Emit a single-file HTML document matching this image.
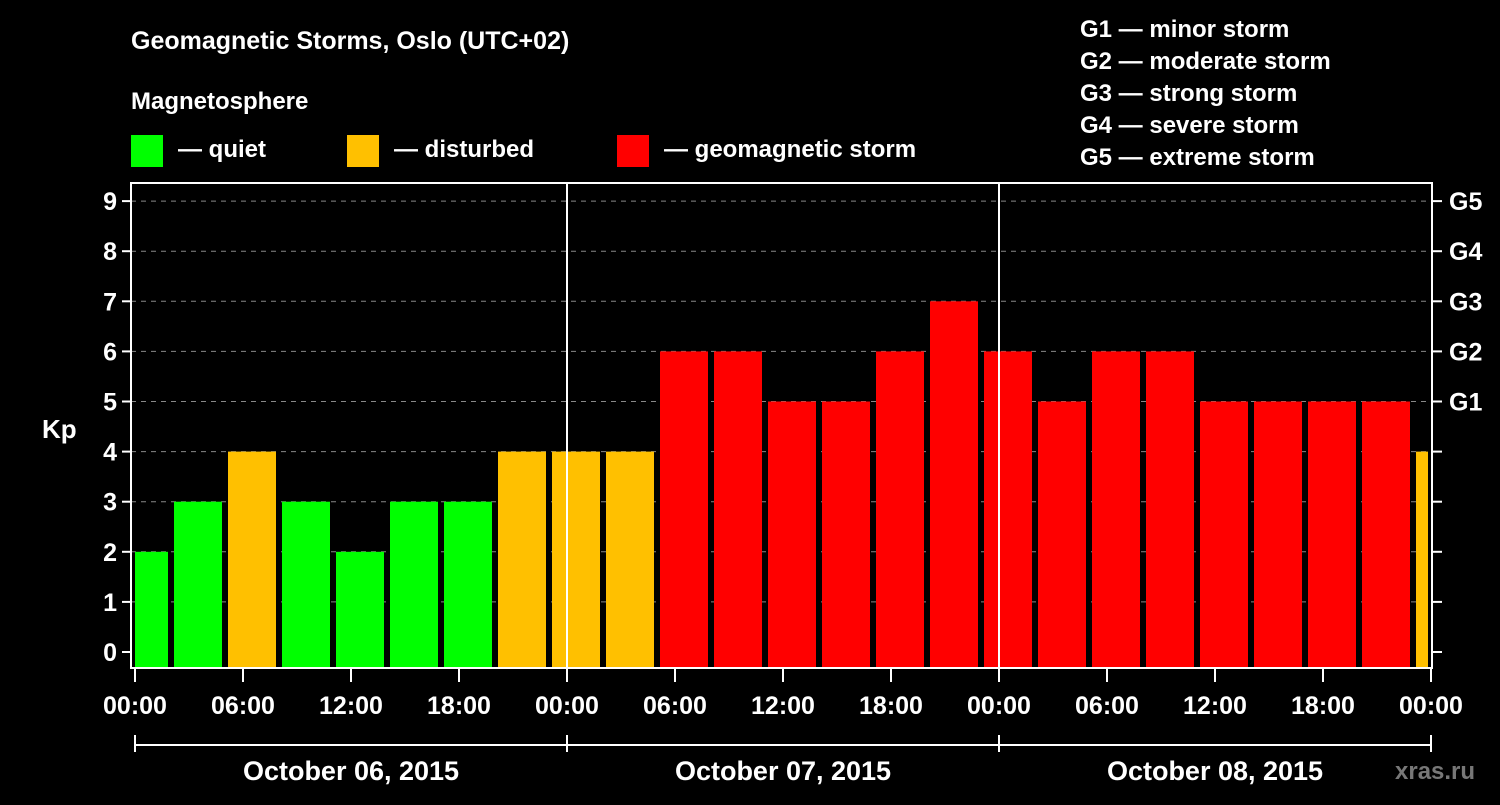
<!DOCTYPE html>
<html><head><meta charset="utf-8"><style>
body{margin:0;background:#000;}
svg text{font-family:"Liberation Sans",sans-serif;font-weight:bold;fill:#fff;}
</style></head><body>
<svg width="1500" height="800">
<rect width="1500" height="800" fill="#000"/>
<text x="131" y="49" font-size="25">Geomagnetic Storms, Oslo (UTC+02)</text>
<text x="131" y="109" font-size="24">Magnetosphere</text>
<g><rect x="131" y="135" width="32" height="32" fill="#00ff00"/><text x="178" y="157" font-size="24">— quiet</text></g>
<g><rect x="347" y="135" width="32" height="32" fill="#ffc000"/><text x="394" y="157" font-size="24">— disturbed</text></g>
<g><rect x="617" y="135" width="32" height="32" fill="#ff0000"/><text x="664" y="157" font-size="24">— geomagnetic storm</text></g>
<g font-size="24">
<text x="1080" y="37">G1 — minor storm</text><text x="1080" y="69">G2 — moderate storm</text><text x="1080" y="101">G3 — strong storm</text><text x="1080" y="133">G4 — severe storm</text><text x="1080" y="165">G5 — extreme storm</text></g>
<g id="grid"></g><g id="bars"></g><g id="axes"></g>
<text x="42" y="438" font-size="26">Kp</text>
<text x="1395" y="779" font-size="24" fill="#888" style="fill:#777">xras.ru</text>
</svg>
<script>
const kpValues=[2,3,4,3,2,3,3,4,4,4,6,6,5,5,6,7,6,5,6,6,5,5,5,5,4];
const yTicks=[0,1,2,3,4,5,6,7,8,9];
const gLabels=["G1","G2","G3","G4","G5"];
const xLabels=["00:00","06:00","12:00","18:00","00:00","06:00","12:00","18:00","00:00","06:00","12:00","18:00","00:00"];
const dayLabels=["October 06, 2015","October 07, 2015","October 08, 2015"];
const NS="http://www.w3.org/2000/svg";
const X0=135,PXH=18,Y0=652,PXU=50.1,TOP=183,BOT=668,L=131,R=1432;
const xs=h=>X0+h*PXH, ys=v=>Y0-v*PXU;
function mk(t,a,p){const e=document.createElementNS(NS,t);for(const k in a)e.setAttribute(k,a[k]);p.appendChild(e);return e;}
const grid=document.getElementById('grid'),bars=document.getElementById('bars'),axes=document.getElementById('axes');
yTicks.forEach(v=>{
 if(v>0){const l=mk('line',{x1:L,x2:R,y1:ys(v),y2:ys(v),stroke:'#888','stroke-dasharray':'5,5'},grid);
 
 }
 mk('line',{x1:L-9,x2:L,y1:ys(v),y2:ys(v),stroke:'#fff','stroke-width':2},axes);
 mk('line',{x1:R,x2:R+10,y1:ys(v),y2:ys(v),stroke:'#fff','stroke-width':2},axes);
 const t=mk('text',{x:L-14,y:ys(v)+9,'font-size':25,'text-anchor':'end'},axes);t.textContent=v;
 
 
});
gLabels.forEach((g,i)=>{const t=mk('text',{x:1449,y:ys(5+i)+9,'font-size':25},axes);t.textContent=g;
 
 });
// bars: first partial 0-2h, then 3h bars, last partial
kpValues.forEach((v,i)=>{
 let h0=i==0?0:2+(i-1)*3, h1=Math.min(i==0?2:h0+3,72);
 let x1=xs(h0)+(i==0?0:3), x2=xs(h1)-3;
 const c=v>=5?'#ff0000':v>=4?'#ffc000':'#00ff00';
 const b=mk('rect',{x:x1,y:ys(v),width:x2-x1,height:BOT-ys(v)-1,fill:c},bars);
 
 
});
[1,2].forEach(d=>mk('line',{x1:xs(d*24),x2:xs(d*24),y1:TOP,y2:BOT,stroke:'#fff','stroke-width':2},axes));
const fr=mk('rect',{x:L,y:TOP,width:R-L,height:BOT-TOP,fill:'none',stroke:'#fff','stroke-width':2},axes);


xLabels.forEach((s,i)=>{const x=xs(i*6);
 mk('line',{x1:x,x2:x,y1:BOT,y2:BOT+14,stroke:'#fff','stroke-width':2},axes);
 const t=mk('text',{x:x,y:714,'font-size':25,'text-anchor':'middle'},axes);t.textContent=s;
 
 });
mk('line',{x1:xs(0),x2:xs(72),y1:745,y2:745,stroke:'#fff','stroke-width':2},axes);
[0,1,2,3].forEach(d=>mk('line',{x1:xs(d*24),x2:xs(d*24),y1:735,y2:752,stroke:'#fff','stroke-width':2},axes));
dayLabels.forEach((s,i)=>{const t=mk('text',{x:xs(i*24+12),y:780,'font-size':27,'text-anchor':'middle'},axes);t.textContent=s;
 
 });
</script>
</body></html>
